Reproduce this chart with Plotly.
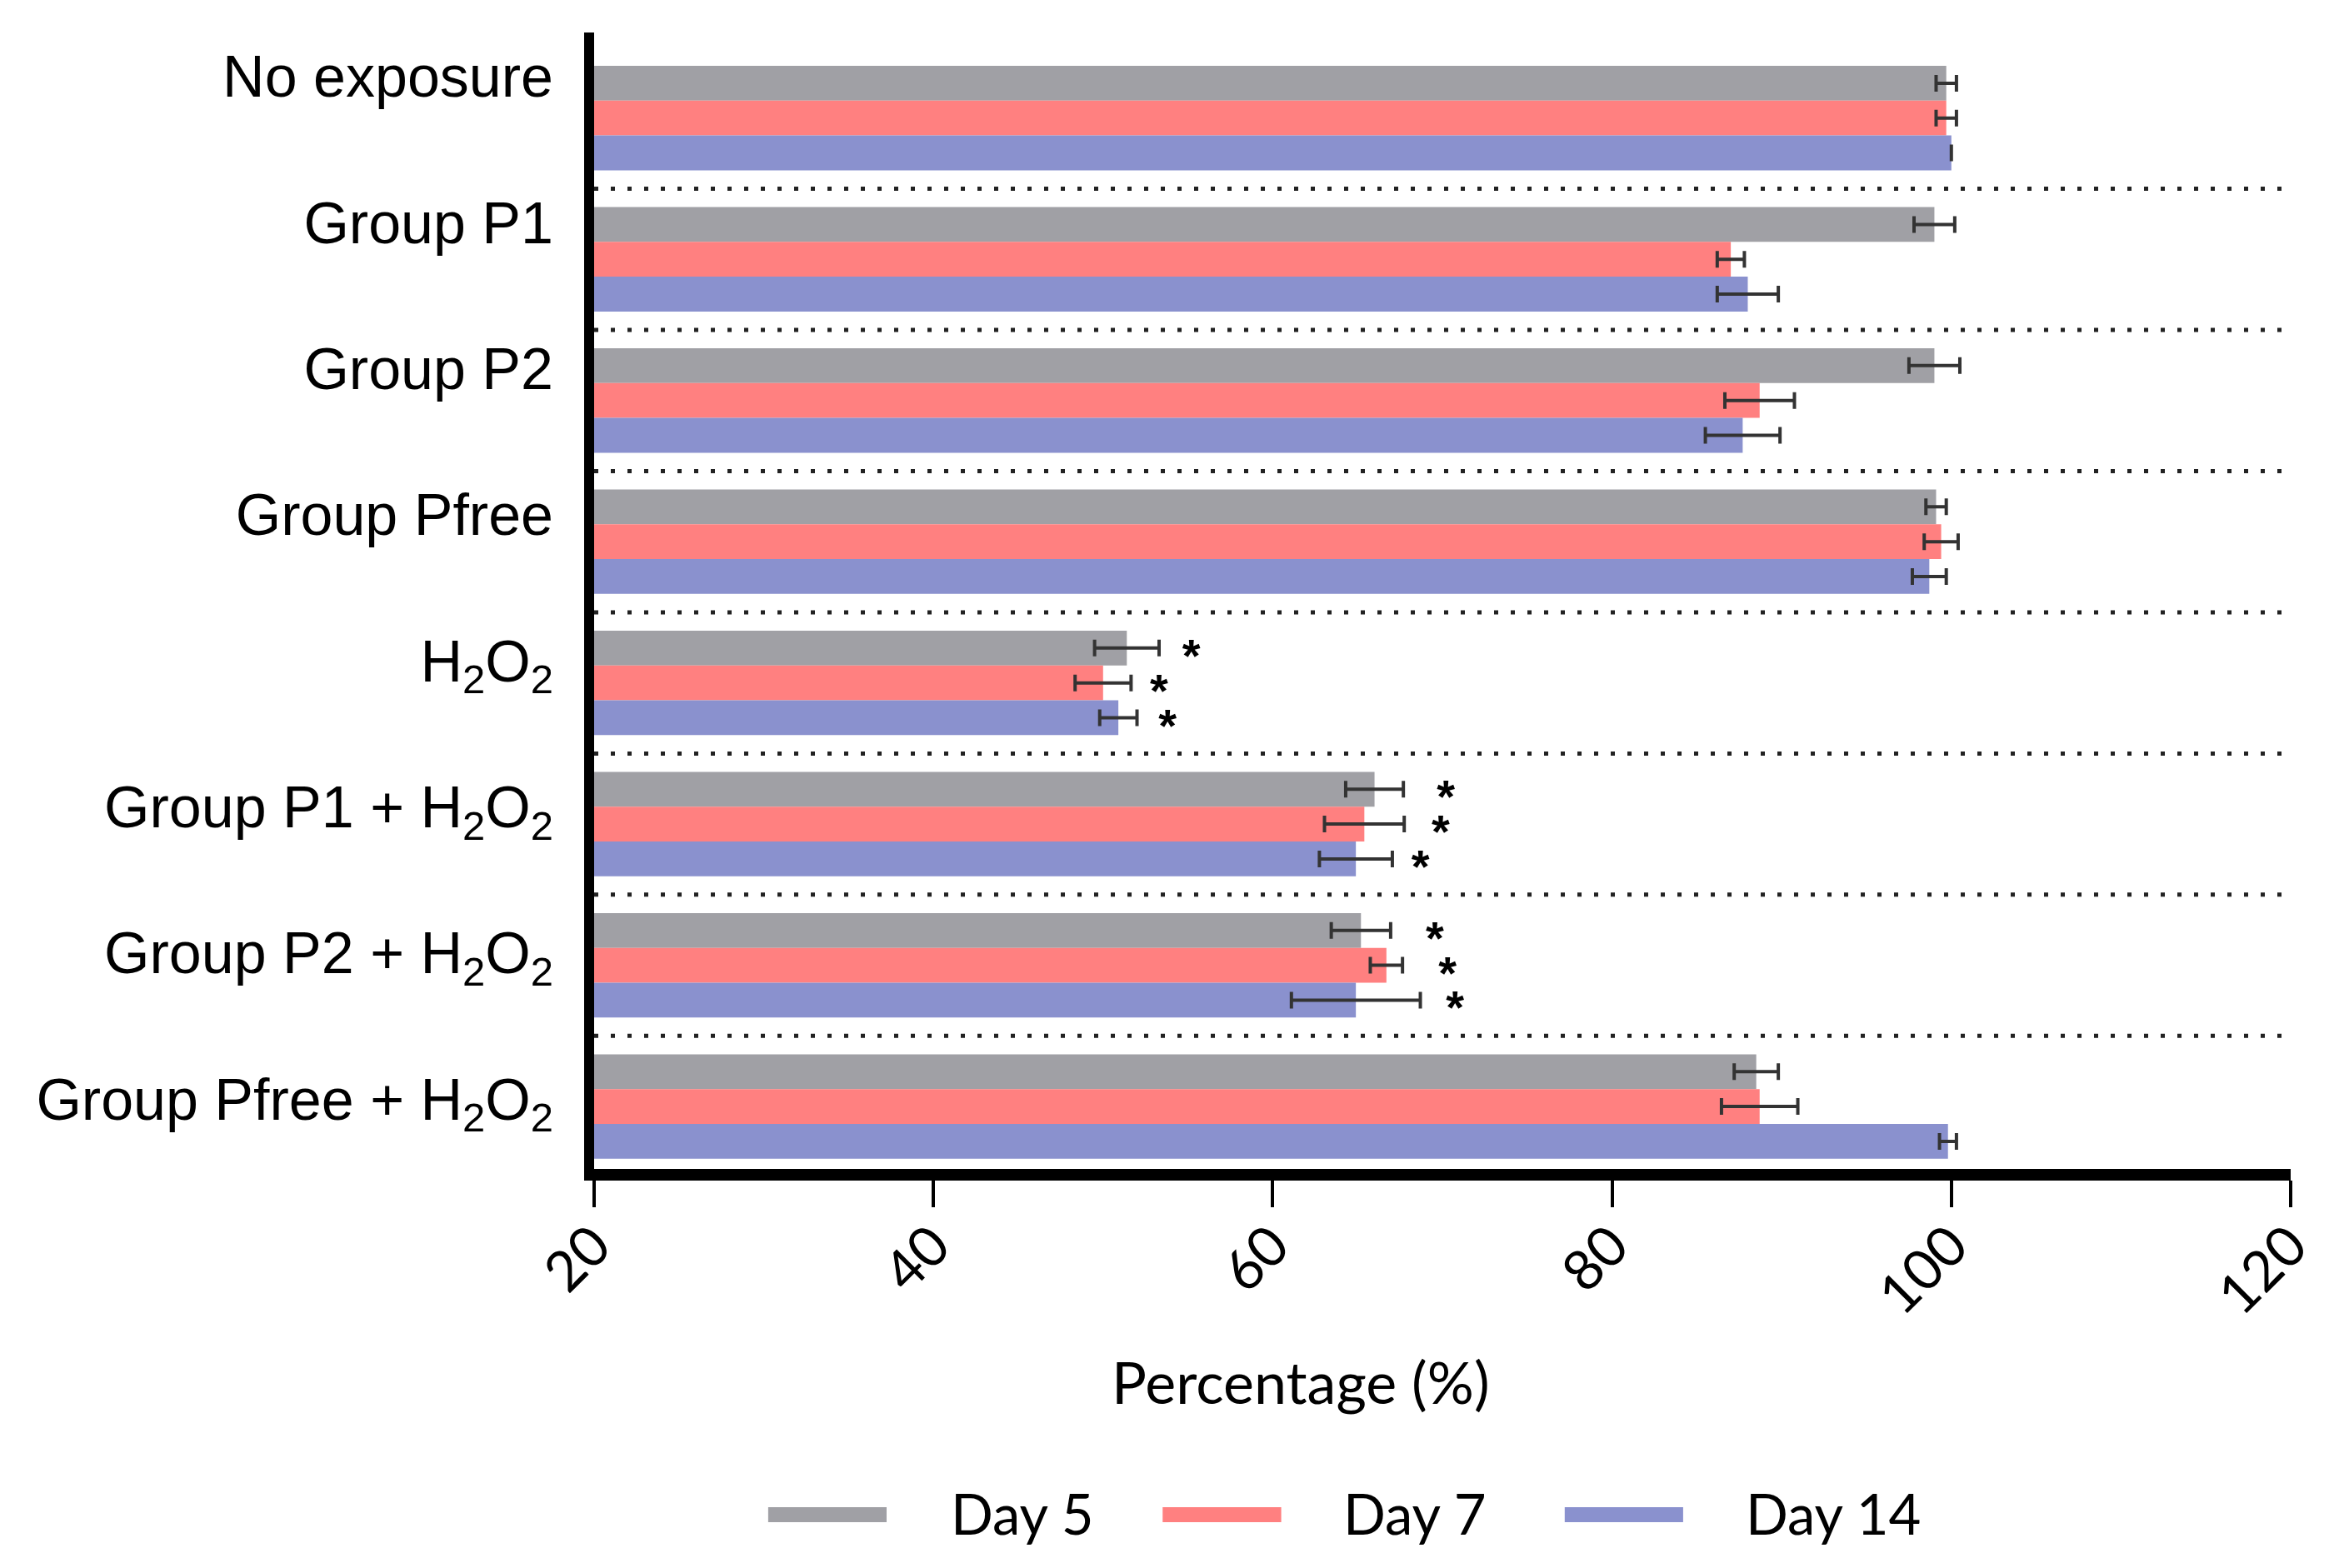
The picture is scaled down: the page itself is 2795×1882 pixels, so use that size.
import plotly.graph_objects as go

# ---------------- data ----------------
categories = [
    "No exposure",
    "Group P1",
    "Group P2",
    "Group Pfree",
    "H<sub>2</sub>O<sub>2</sub>",
    "Group P1 + H<sub>2</sub>O<sub>2</sub>",
    "Group P2 + H<sub>2</sub>O<sub>2</sub>",
    "Group Pfree + H<sub>2</sub>O<sub>2</sub>",
]
series_names = ["Day 5", "Day 7", "Day 14"]

day5 = [99.7, 99.0, 99.0, 99.1, 51.4, 66.0, 65.2, 88.5]
day5_err = [0.6, 1.2, 1.5, 0.6, 1.9, 1.7, 1.75, 1.3]
day7 = [99.7, 87.0, 88.7, 99.4, 50.0, 65.4, 66.7, 88.7]
day7_err = [0.6, 0.8, 2.05, 1.0, 1.65, 2.35, 0.95, 2.25]
day14 = [100.0, 88.0, 87.7, 98.7, 50.9, 64.9, 64.9, 99.8]
day14_err = [0.0, 1.8, 2.2, 1.0, 1.1, 2.15, 3.8, 0.5]

# significance markers (*) : categories and x positions
star_categories = [categories[4], categories[5], categories[6]]
star_day5 = [55.2, 70.2, 69.55]
star_day7 = [53.3, 69.9, 70.3]
star_day14 = [53.8, 68.7, 70.75]

x_ticks = [20, 40, 60, 80, 100, 120]

# ---------------- styles ----------------
colors = ["#A0A0A5", "#FF8080", "#8A91CE"]
err_color = "#333333"
label_font = "Liberation Sans, Arial, sans-serif"
num_font = "Lato, Carlito, sans-serif"

values = [day5, day7, day14]
errors = [day5_err, day7_err, day14_err]
stars = [star_day5, star_day7, star_day14]
groups = ["d5", "d7", "d14"]

n = len(categories)
y_range = [n - 1 + 0.442, -0.606]
star_shift = 0.083          # moves the '*' glyphs down onto the bar centres
label_range = [n - 1 + 0.479, -0.301]

fig = go.Figure()

for name, vals, errs, col, grp in zip(series_names, values, errors, colors, groups):
    fig.add_trace(go.Bar(
        y=categories, x=vals, orientation="h", name=name,
        marker=dict(color=col, line=dict(width=0)),
        offsetgroup=grp,
        error_x=dict(type="data", array=errs, visible=True,
                     color=err_color, thickness=4, width=10),
        showlegend=False,
    ))

for sx, grp in zip(stars, groups):
    fig.add_trace(go.Scatter(
        y=star_categories, x=sx, orientation="h", mode="text", yaxis="y3",
        text=["*"] * len(sx), textposition="middle center",
        textfont=dict(family=label_font, size=56, color="black", weight="bold"),
        offsetgroup=grp, showlegend=False, hoverinfo="skip",
    ))

# carrier (no visible marks) for the category label axis
fig.add_trace(go.Scatter(
    y=categories, x=[None] * n, yaxis="y2", mode="markers",
    marker=dict(opacity=0), showlegend=False, hoverinfo="skip",
))

# dotted separators between category groups
for i in range(n - 1):
    fig.add_shape(type="line", xref="x", yref="y",
                  x0=x_ticks[0], x1=x_ticks[-1], y0=i + 0.5, y1=i + 0.5,
                  line=dict(color="#222222", width=5, dash="5px,15px"))

# manual legend (long bar-like swatches, as in the reference)
leg_sw = [(0.1026, 0.1724), (0.3351, 0.4050), (0.5721, 0.6419)]
leg_tx = [0.2091, 0.4406, 0.6776]
for (x0, x1), tx, col, name in zip(leg_sw, leg_tx, colors, series_names):
    fig.add_shape(type="rect", xref="paper", yref="paper",
                  x0=x0, x1=x1, y0=-0.3109, y1=-0.2977,
                  fillcolor=col, line=dict(width=0))
    fig.add_annotation(xref="paper", yref="paper", x=tx, y=-0.3028,
                       text=name, showarrow=False, xanchor="left", yanchor="middle",
                       font=dict(family=num_font, size=67, color="black"))

# x-axis title
fig.add_annotation(xref="paper", yref="paper", x=0.4167, y=-0.187,
                   text="Percentage (%)", showarrow=False,
                   xanchor="center", yanchor="middle",
                   font=dict(family=num_font, size=70, color="black"))

fig.update_layout(
    width=2795, height=1882, autosize=False,
    margin=dict(l=713, r=35, t=39, b=479),
    paper_bgcolor="white", plot_bgcolor="white",
    barmode="group", bargap=0.26, bargroupgap=0,
    scattermode="group", scattergap=0.26,
    showlegend=False,
    xaxis=dict(
        range=[x_ticks[0], x_ticks[-1]], tickvals=x_ticks,
        ticks="outside", ticklen=32, tickwidth=4, tickcolor="black",
        tickangle=-45, tickfont=dict(family=num_font, size=67, color="black"),
        ticklabelstandoff=-20,
        showline=True, linewidth=14, linecolor="black",
        showgrid=False, zeroline=False,
    ),
    yaxis=dict(
        type="category", categoryorder="array", categoryarray=categories,
        range=y_range,
        showline=True, linewidth=12, linecolor="black",
        ticks="", showticklabels=False, showgrid=False, zeroline=False,
    ),
    yaxis2=dict(
        type="category", categoryorder="array", categoryarray=categories,
        overlaying="y", side="left", anchor="x",
        range=label_range,
        ticks="", showline=False, showgrid=False, zeroline=False,
        ticklabelstandoff=48,
        tickfont=dict(family=label_font, size=70, color="black"),
    ),
    yaxis3=dict(
        type="category", categoryorder="array", categoryarray=categories,
        overlaying="y", anchor="x", visible=False, showticklabels=False,
        range=[y_range[0] - star_shift, y_range[1] - star_shift],
    ),
)

fig.write_html(
    "out.html",
    config={"displayModeBar": False},
    post_script="document.body.style.margin='0';"
                "document.documentElement.style.overflow='hidden';",
)
